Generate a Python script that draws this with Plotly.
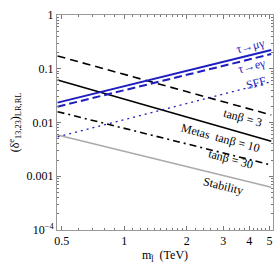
import plotly.graph_objects as go
import math

# data: slepton mass in TeV, endpoints of straight log-log lines
m_range = [0.478, 5.1]
tanb3 = [0.173, 0.0138]
tanb10 = [0.0618, 0.00447]
tanb30 = [0.0159, 0.00162]
stability = [0.00585, 0.000622]
tau_mu_gamma = [0.0234, 0.223]
tau_e_gamma = [0.0197, 0.188]
sff = [0.0054, 0.0574]

x_ticks = [0.5, 1, 2, 3, 4, 5]
x_ticktext = ["0.5", "1", "2", "3", "4", "5"]
y_ticks = [1e-4, 1e-3, 1e-2, 1e-1, 1]
y_ticktext = ["10<sup>\u22124</sup>", "0.001", "0.01", "0.1", "1"]

BLUE = "rgb(30,30,190)"
FONT = "Liberation Serif"

fig = go.Figure()

def add(y, color, width, dash):
    fig.add_trace(go.Scatter(x=m_range, y=y, mode="lines",
                             line=dict(color=color, width=width, dash=dash),
                             showlegend=False, hoverinfo="skip"))

add(stability, "#aaaaaa", 1.5, "solid")
add(tanb3, "black", 1.6, "8px,5px")
add(tanb10, "black", 1.6, "solid")
add(tanb30, "black", 1.6, "7px,4px,2px,4px")
add(sff, BLUE, 1.2, "2px,4px")
add(tau_e_gamma, BLUE, 2, "8px,4px")
add(tau_mu_gamma, BLUE, 2, "solid")

def lx(v):
    return math.log10(v)

labels = [
    ("\u03c4\u2192\u03bc\u03b3", 4.05, 0.265, -14, BLUE),
    ("\u03c4\u2192e\u03b3", 4.1, 0.112, -14, BLUE),
    ("SFF", 4.3, 0.0543, -14, BLUE),
    ("tan\u03b2 = 3", 3.75, 0.0121, 15, "black"),
    ("Metas  tan\u03b2 = 10", 2.92, 0.00515, 15, "black"),
    ("tan\u03b2 = 30", 3.25, 0.00209, 15, "black"),
    ("Stability", 3.0, 0.00066, 14, "black"),
]
for txt, x, y, ang, col in labels:
    fig.add_annotation(x=lx(x), y=lx(y), xref="x", yref="y", text=txt,
                       showarrow=False, textangle=ang,
                       font=dict(family=FONT, size=12, color=col))

minor_x = [0.6, 0.7, 0.8, 0.9, 1.1, 1.2, 1.3, 1.4, 1.5, 1.6, 1.7, 1.8, 1.9,
           2.2, 2.4, 2.6, 2.8, 3.2, 3.4, 3.6, 3.8, 4.2, 4.4, 4.6, 4.8]
minor_y = [k * 10 ** e for e in range(-4, 0) for k in range(2, 10)]

axis_common = dict(showline=True, linecolor="#999999", linewidth=1, mirror="ticks",
                   ticks="inside", ticklen=4, tickcolor="#777777", showgrid=False,
                   zeroline=False, tickfont=dict(family=FONT, size=12, color="black"))

fig.update_xaxes(type="log", range=[lx(0.475), lx(5.2)], tickvals=x_ticks,
                 ticktext=x_ticktext,
                 minor=dict(tickvals=minor_x, ticks="inside", ticklen=2, tickcolor="#777777"),
                 title=dict(text="m<sub>l\u0303</sub>  (TeV)", font=dict(family=FONT, size=12, color="black"),
                            standoff=0),
                 **axis_common)
fig.update_yaxes(type="log", range=[-4, 0], tickvals=y_ticks, ticktext=y_ticktext,
                 minor=dict(tickvals=minor_y, ticks="inside", ticklen=2, tickcolor="#777777"),
                 title=dict(text="(\u03b4<sup>e</sup><sub>13,23</sub>)<sub>LR,RL</sub>",
                            font=dict(family=FONT, size=12, color="black"), standoff=4),
                 **axis_common)

fig.update_layout(width=278, height=274, margin=dict(l=57, r=5, t=15, b=44),
                  paper_bgcolor="white", plot_bgcolor="white",
                  font=dict(family=FONT))

fig.write_html("out.html", config={"displayModeBar": False},
               post_script="document.body.style.margin='0';document.body.style.overflow='hidden';")
